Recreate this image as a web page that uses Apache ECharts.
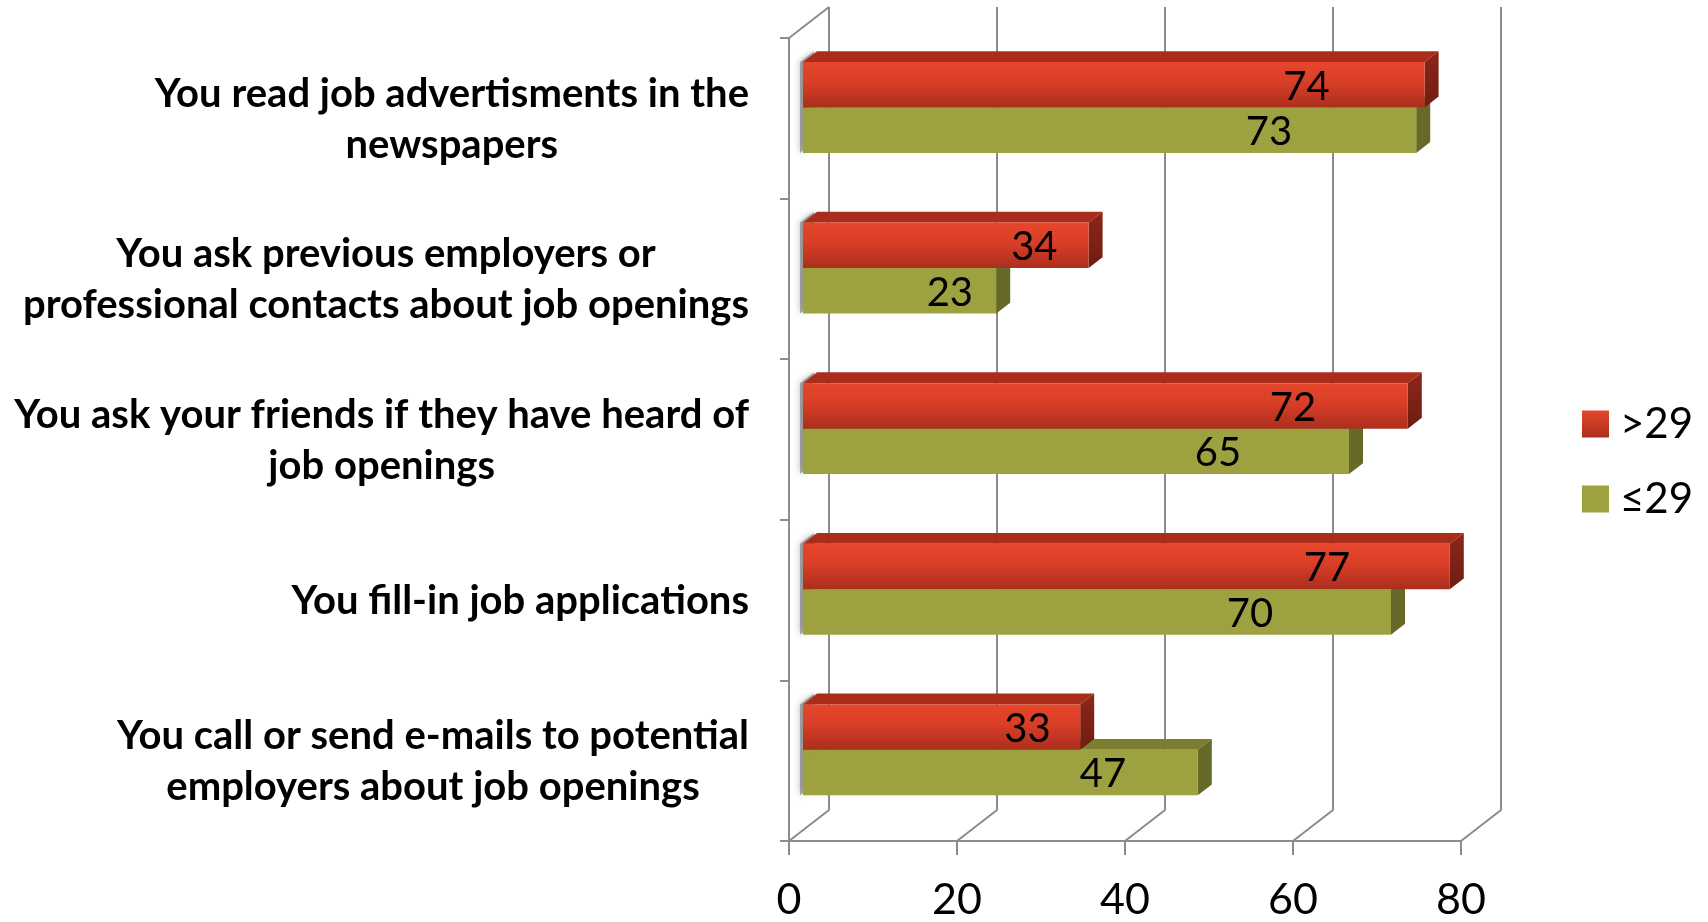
<!DOCTYPE html>
<html>
<head>
<meta charset="utf-8">
<script src="https://cdn.jsdelivr.net/npm/echarts@6/dist/echarts.min.js"></script>
<style>
  html, body { margin: 0; padding: 0; background: #fff; }
  #chart { width: 1708px; height: 922px; }
</style>
</head>
<body>
<div id="chart"></div>
<script>
// Job-search methods by age group (percent)
const categories = [
  'You read job advertisments in the\nnewspapers',
  'You ask previous employers or\nprofessional contacts about job openings',
  'You ask your friends if they have heard of\njob openings',
  'You fill-in job applications',
  'You call or send e-mails to potential\nemployers about job openings'
];
const seriesNames = ['>29', '≤29'];
const olderValues = [74, 34, 72, 77, 33];    // >29
const youngerValues = [73, 23, 65, 70, 47];  // ≤29
const xTicks = [0, 20, 40, 60, 80];

// 3D projection settings (pixels / fractions)
const DEPTH = [40, -31];      // front plane -> back wall offset
const BAR_FRONT = 0.35;       // depth of the bars' front faces
const BAR_DEPTH = 0.35;       // thickness of the bars in depth
const BAR_H = 0.283;          // bar height as a share of the category band
const LINE = '#8c8c8c';
const FONT = 'Lato, "Open Sans", sans-serif';

const chart = echarts.init(document.getElementById('chart'), null, { renderer: 'canvas' });

const palette = {
  older: {
    front: new echarts.graphic.LinearGradient(0, 0, 0, 1, [
      { offset: 0, color: '#e6472c' },
      { offset: 0.45, color: '#d83e27' },
      { offset: 1, color: '#ab2e1d' }
    ]),
    top: '#aa2d1c',
    side: new echarts.graphic.LinearGradient(0, 0, 0, 1, [
      { offset: 0, color: '#8c2719' },
      { offset: 1, color: '#6e1d12' }
    ]),
    legend: new echarts.graphic.LinearGradient(0, 0, 0, 1, [
      { offset: 0, color: '#e6472c' },
      { offset: 1, color: '#ab2e1d' }
    ]),
    labelPos: 0.81
  },
  younger: {
    front: '#9ea13f',
    top: '#7b7e30',
    side: '#666928',
    legend: '#9ea13f',
    labelPos: 0.76
  }
};

function barRenderer(colors, upper) {
  return function (params, api) {
    const v = api.value(0);
    const c = api.value(1);
    const p0 = api.coord([0, c]);
    const p1 = api.coord([v, c]);
    const band = api.size([0, 1])[1];
    const h = band * BAR_H;
    const ox = DEPTH[0] * BAR_FRONT, oy = DEPTH[1] * BAR_FRONT;
    const bx = DEPTH[0] * BAR_DEPTH, by = DEPTH[1] * BAR_DEPTH;
    const x0 = p0[0] + ox, x1 = p1[0] + ox;
    const yTop = (upper ? p0[1] - h : p0[1]) + oy;
    const yBot = yTop + h;
    const sx = -3;
    return {
      type: 'group',
      children: [
        // soft shadow of the bar end on the side wall
        {
          type: 'polygon',
          shape: { points: [[x0 + sx, yTop], [x0 + bx + sx, yTop + by], [x0 + bx + sx, yBot + by], [x0 + sx, yBot]] },
          style: {
            fill: 'rgba(110,110,110,0.55)',
            shadowBlur: 6,
            shadowColor: 'rgba(90,90,90,0.8)'
          },
          z2: 0
        },
        {
          type: 'polygon',
          shape: { points: [[x0, yTop], [x1, yTop], [x1 + bx, yTop + by], [x0 + bx, yTop + by]] },
          style: { fill: colors.top },
          z2: 1
        },
        {
          type: 'polygon',
          shape: { points: [[x1, yTop], [x1, yBot], [x1 + bx, yBot + by], [x1 + bx, yTop + by]] },
          style: { fill: colors.side },
          z2: 1
        },
        {
          type: 'rect',
          shape: { x: x0, y: yTop, width: x1 - x0, height: h },
          style: { fill: colors.front },
          z2: 2
        },
        {
          type: 'text',
          x: x0 + (x1 - x0) * colors.labelPos,
          y: (yTop + yBot) / 2 + 2,
          style: {
            text: String(v),
            font: '40px ' + FONT,
            fill: '#000',
            align: 'center',
            verticalAlign: 'middle'
          },
          z2: 3
        }
      ]
    };
  };
}

// back wall grid lines with the floor diagonals
function wallRenderer(params, api) {
  const cs = params.coordSys;
  const x = api.coord([api.value(0), 0])[0];
  const top = cs.y, bottom = cs.y + cs.height;
  const children = [{
    type: 'polyline',
    shape: { points: [[x, bottom], [x + DEPTH[0], bottom + DEPTH[1]], [x + DEPTH[0], top + DEPTH[1]]] },
    style: { stroke: LINE, lineWidth: 2, fill: null }
  }];
  if (params.dataIndex === 0) {
    children.push({
      type: 'line',
      shape: { x1: x, y1: top, x2: x + DEPTH[0], y2: top + DEPTH[1] },
      style: { stroke: LINE, lineWidth: 2 }
    });
  }
  return { type: 'group', children: children };
}

// category labels: block right-aligned, lines centred on each other
const LABEL_FONT = 'bold 40px ' + FONT;
const measureCtx = document.createElement('canvas').getContext('2d');
measureCtx.font = LABEL_FONT;
function blockWidth(text) {
  return Math.max.apply(null, text.split('\n').map(function (l) { return measureCtx.measureText(l).width; }));
}
function categoryLabelRenderer(params, api) {
  const cs = params.coordSys;
  const i = api.value(1);
  const text = categories[i];
  const y = api.coord([0, i])[1];
  const right = cs.x - 40;
  return {
    type: 'text',
    x: right - blockWidth(text) / 2,
    y: y + 1,
    style: {
      text: text,
      font: LABEL_FONT,
      fill: '#000',
      align: 'center',
      verticalAlign: 'middle',
      lineHeight: 51
    }
  };
}

const option = {
  animation: false,
  backgroundColor: '#ffffff',
  grid: { left: 789, right: 247, top: 38, bottom: 81 },
  legend: {
    orient: 'vertical',
    left: 1577,
    top: 398,
    itemWidth: 27,
    itemHeight: 27,
    itemGap: 33,
    icon: 'rect',
    data: seriesNames,
    textStyle: { fontFamily: FONT, fontSize: 42, color: '#000', padding: [0, 0, 0, 6] }
  },
  xAxis: {
    type: 'value',
    min: 0,
    max: 80,
    interval: 20,
    axisLine: { show: true, lineStyle: { color: LINE, width: 2 } },
    axisTick: { show: true, length: 14, lineStyle: { color: LINE, width: 2 } },
    axisLabel: {
      margin: 38,
      fontFamily: FONT,
      fontSize: 43,
      color: '#000',
      formatter: function (v) { return xTicks.indexOf(v) >= 0 ? String(v) : ''; }
    },
    splitLine: { show: false }
  },
  yAxis: {
    type: 'category',
    inverse: true,
    data: categories,
    axisLine: { show: true, lineStyle: { color: LINE, width: 2 } },
    axisTick: { show: true, length: 9, lineStyle: { color: LINE, width: 2 } },
    axisLabel: { show: false },
    splitLine: { show: false }
  },
  series: [
    {
      type: 'custom',
      name: 'wall',
      silent: true,
      clip: false,
      renderItem: wallRenderer,
      data: xTicks.map(function (v) { return [v, 0]; }),
      encode: { x: 0, y: 1 },
      z: 1
    },
    {
      type: 'custom',
      name: seriesNames[1],
      clip: false,
      itemStyle: { color: palette.younger.legend },
      renderItem: barRenderer(palette.younger, false),
      data: youngerValues.map(function (v, i) { return [v, i]; }),
      encode: { x: 0, y: 1 },
      z: 2
    },
    {
      type: 'custom',
      name: seriesNames[0],
      clip: false,
      itemStyle: { color: palette.older.legend },
      renderItem: barRenderer(palette.older, true),
      data: olderValues.map(function (v, i) { return [v, i]; }),
      encode: { x: 0, y: 1 },
      z: 3
    },
    {
      type: 'custom',
      name: 'categoryLabels',
      silent: true,
      clip: false,
      renderItem: categoryLabelRenderer,
      data: categories.map(function (c, i) { return [0, i]; }),
      encode: { x: 0, y: 1 },
      z: 4
    }
  ]
};

chart.setOption(option);
</script>
</body>
</html>
